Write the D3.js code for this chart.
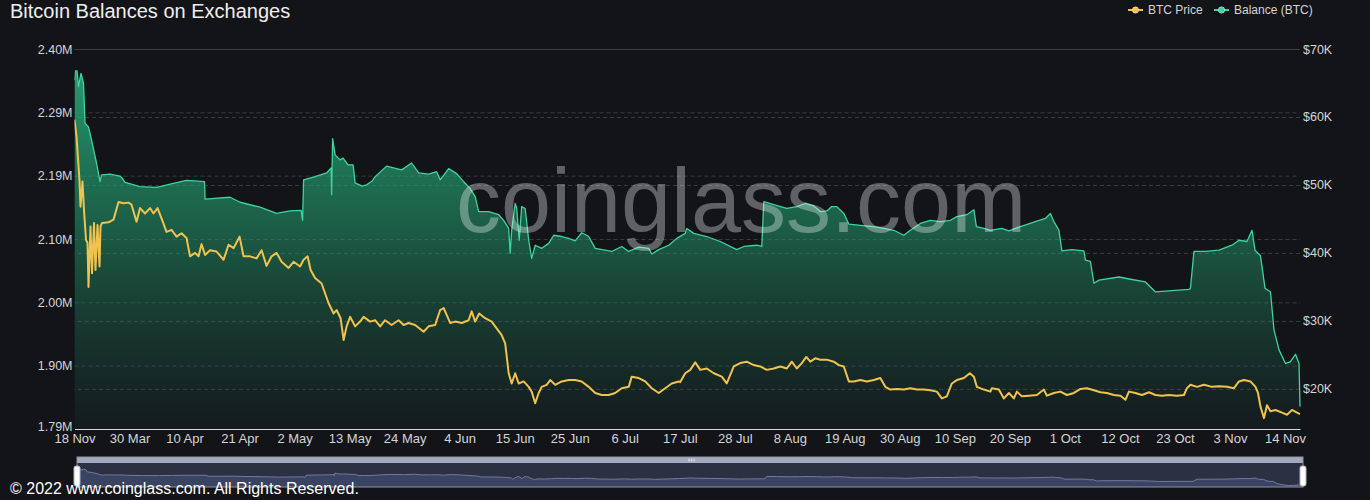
<!DOCTYPE html>
<html><head><meta charset="utf-8">
<script src="https://cdn.jsdelivr.net/npm/d3@7"></script>
<style>
html,body{margin:0;padding:0;background:#131418;}
svg{display:block;font-family:"Liberation Sans",Arial,sans-serif;}
</style></head><body>
<svg id="chart" width="1370" height="500"></svg>
<script>
// ---------------- data ----------------
const chartTitle = "Bitcoin Balances on Exchanges";
const seriesNames = ["BTC Price", "Balance (BTC)"];
const categoryCount = 246;           // daily categories on the x axis
const labelInterval = 11;            // a label every 11 categories
const xTickLabels = ["18 Nov","30 Mar","10 Apr","21 Apr","2 May","13 May","24 May","4 Jun","15 Jun","25 Jun","6 Jul","17 Jul","28 Jul","8 Aug","19 Aug","30 Aug","10 Sep","20 Sep","1 Oct","12 Oct","23 Oct","3 Nov","14 Nov"];
const leftDomain = [1.79, 2.40];     // BTC, millions
const leftTickLabels = ["1.79M","1.90M","2.00M","2.10M","2.19M","2.29M","2.40M"];
const rightDomain = [14.1, 70];      // USD, thousands
const rightTicks = [20, 30, 40, 50, 60, 70];

// [category index, balance in millions of BTC]
const balance = [
[0,2.350],[0.2,2.365],[0.5,2.365],[0.8,2.340],[1.3,2.361],[1.8,2.345],[2.1,2.281],[2.8,2.275],[3.4,2.254],[4.4,2.217],
[5.1,2.187],[5.4,2.198],[7.1,2.199],[9.1,2.196],[9.5,2.193],[10.1,2.186],[13.1,2.179],[16.5,2.178],[19.1,2.183],[22.4,2.189],
[26.0,2.187],[26.1,2.159],[31.1,2.162],[33.1,2.154],[37.1,2.146],[40.4,2.136],[43.1,2.140],[45.3,2.141],[45.6,2.125],[45.8,2.190],
[48.1,2.195],[50.4,2.201],[51.3,2.209],[51.4,2.166],[51.6,2.256],[52.1,2.230],[53.1,2.222],[53.7,2.225],[54.7,2.214],[55.7,2.214],
[56.1,2.185],[57.5,2.180],[58.4,2.182],[59.5,2.188],[60.1,2.195],[62.4,2.212],[65.4,2.206],[67.4,2.217],[68.8,2.201],[70.8,2.199],
[72.4,2.203],[73.1,2.190],[74.8,2.208],[76.4,2.200],[77.8,2.187],[79.1,2.176],[80.1,2.163],[80.8,2.139],[82.8,2.139],[84.8,2.134],
[85.8,2.125],[86.8,2.112],[87.1,2.072],[87.4,2.109],[88.1,2.152],[88.4,2.145],[88.9,2.093],[89.4,2.147],[90.1,2.144],[90.8,2.093],
[91.4,2.064],[92.1,2.085],[93.4,2.080],[94.8,2.088],[95.8,2.101],[97.4,2.099],[98.8,2.096],[100.1,2.092],[101.4,2.105],[102.8,2.099],
[104.1,2.080],[106.1,2.077],[107.4,2.075],[109.4,2.083],[110.8,2.075],[112.8,2.082],[114.8,2.080],[115.4,2.071],[116.8,2.078],[118.8,2.085],
[120.4,2.096],[122.1,2.104],[122.4,2.112],[123.8,2.104],[126.4,2.099],[129.1,2.091],[132.4,2.078],[133.8,2.083],[136.4,2.085],[137.4,2.083],
[137.8,2.155],[139.8,2.150],[142.4,2.144],[144.4,2.147],[146.1,2.152],[147.8,2.148],[149.1,2.139],[150.4,2.140],[151.4,2.147],[152.4,2.147],
[153.8,2.136],[154.8,2.119],[157.1,2.117],[159.8,2.115],[161.8,2.112],[163.8,2.109],[165.8,2.101],[167.1,2.109],[169.1,2.120],[171.1,2.125],
[173.1,2.123],[175.1,2.125],[176.4,2.131],[178.4,2.134],[179.8,2.142],[180.3,2.115],[181.8,2.112],[183.1,2.109],[185.4,2.112],[186.8,2.108],
[188.8,2.114],[192.1,2.123],[194.1,2.128],[195.1,2.136],[195.8,2.123],[196.8,2.109],[197.4,2.076],[199.4,2.078],[201.8,2.076],[202.1,2.061],
[203.1,2.059],[203.8,2.024],[204.8,2.029],[208.8,2.034],[211.4,2.030],[214.1,2.026],[215.1,2.018],[216.1,2.010],[219.4,2.012],[222.8,2.014],
[223.1,2.016],[223.8,2.075],[226.1,2.075],[228.8,2.077],[231.4,2.085],[232.8,2.093],[234.4,2.091],[235.4,2.109],[236.0,2.077],[237.1,2.068],
[238.0,2.016],[239.1,2.010],[239.8,1.949],[240.8,1.917],[242.1,1.895],[243.1,1.898],[244.1,1.910],[244.8,1.895],[245.0,1.826]
];

// [category index, BTC price in thousands of USD]
const price = [
[0,59.6],[0.4,57.1],[1.0,50.7],[1.2,46.8],[1.6,50.5],[1.9,46.3],[2.3,41.9],[2.6,41.5],[2.8,35.0],[3.2,43.9],
[3.5,37.0],[3.9,44.4],[4.2,37.5],[4.6,44.1],[5.0,38.0],[5.2,43.9],[5.5,44.4],[6.8,44.5],[7.8,44.9],[8.8,47.5],
[9.8,47.3],[10.8,47.4],[11.4,47.1],[12.4,44.6],[13.1,46.6],[14.1,45.8],[15.1,46.6],[15.8,45.8],[16.6,46.6],[17.4,45.1],
[18.4,43.1],[19.4,43.4],[20.4,42.4],[21.4,42.9],[22.4,42.2],[23.1,39.5],[24.1,40.0],[24.8,39.5],[25.4,41.3],[26.1,39.7],
[27.1,40.4],[28.4,40.2],[29.8,39.0],[30.8,41.2],[31.8,40.7],[33.0,42.4],[33.8,39.5],[35.1,39.5],[36.4,39.2],[37.4,40.4],
[38.4,38.1],[39.4,39.5],[40.4,40.0],[41.4,38.7],[42.8,37.8],[43.8,38.7],[45.1,38.0],[45.8,39.0],[46.6,39.5],[47.2,37.5],
[48.1,36.3],[49.4,35.5],[50.8,32.6],[51.8,31.1],[52.4,31.6],[53.2,30.4],[53.8,27.2],[54.4,29.2],[55.1,30.6],[56.1,29.2],
[57.1,29.9],[57.8,30.6],[59.1,29.9],[60.1,30.1],[61.1,29.2],[62.1,30.1],[63.4,29.4],[64.8,30.1],[65.8,29.4],[66.8,29.7],
[68.1,29.4],[69.8,28.4],[70.8,29.2],[72.1,29.4],[73.1,31.6],[73.8,31.9],[74.4,30.9],[75.1,29.7],[76.1,29.9],[77.4,29.7],
[78.8,30.1],[79.4,31.4],[80.1,29.9],[80.9,31.1],[82.1,30.4],[83.4,29.9],[84.4,28.9],[85.4,27.9],[86.1,26.7],[86.8,22.3],
[87.4,20.8],[88.1,22.3],[88.8,20.8],[89.8,21.1],[90.8,20.3],[91.4,19.6],[92.1,17.9],[92.8,19.4],[93.4,20.3],[94.4,20.6],
[95.1,21.3],[96.1,20.6],[97.4,21.1],[98.8,21.3],[100.1,21.3],[101.4,21.1],[102.8,20.3],[104.1,19.4],[105.4,19.1],[106.8,19.1],
[108.1,19.4],[109.4,20.1],[110.8,20.3],[111.4,21.8],[112.8,21.6],[114.1,21.1],[115.4,20.1],[116.8,19.4],[118.1,20.1],[119.4,20.8],
[120.8,21.1],[121.1,21.0],[122.1,22.3],[123.1,22.8],[124.1,23.9],[125.1,22.8],[126.4,23.0],[127.8,22.3],[129.4,21.8],[130.4,20.8],
[131.8,23.3],[133.1,23.8],[134.4,24.0],[135.8,23.5],[137.1,23.3],[138.4,22.8],[139.8,23.0],[141.1,23.3],[142.4,23.0],[143.4,24.0],
[144.4,23.0],[145.4,23.8],[146.3,24.7],[147.1,24.0],[148.1,24.5],[149.1,24.3],[150.4,24.3],[151.8,24.0],[152.8,23.5],[153.8,23.3],
[154.8,21.1],[155.8,21.1],[157.1,21.3],[158.4,21.1],[159.8,21.3],[161.1,21.6],[162.1,20.3],[163.1,19.9],[164.4,20.0],[165.8,19.9],
[167.1,20.1],[168.4,19.9],[169.8,19.9],[171.1,19.8],[172.4,19.6],[173.4,18.6],[174.4,18.9],[175.4,20.8],[176.4,21.3],[177.8,21.6],
[179.0,22.3],[179.8,21.8],[180.4,20.3],[181.8,19.9],[183.1,19.6],[183.4,20.1],[184.8,19.9],[185.8,18.6],[186.8,19.4],[187.8,18.6],
[188.4,19.6],[189.4,18.9],[190.8,19.0],[192.4,19.1],[193.8,19.9],[194.4,19.0],[195.8,19.4],[197.1,19.6],[198.4,19.1],[199.8,19.4],
[201.1,20.0],[202.4,20.1],[203.8,19.8],[205.1,19.5],[206.4,19.4],[207.8,19.1],[209.1,19.0],[210.1,18.4],[210.8,19.6],[212.1,19.4],
[213.4,19.1],[214.8,19.5],[216.1,19.1],[217.4,19.0],[218.8,19.1],[220.4,19.0],[221.8,19.1],[222.4,20.1],[223.1,20.6],[224.4,20.3],
[225.8,20.6],[227.4,20.3],[228.8,20.4],[230.4,20.3],[231.8,20.1],[232.8,21.1],[233.8,21.3],[235.1,21.1],[236.1,20.3],[236.6,19.4],
[237.1,17.4],[237.8,15.7],[238.4,17.6],[239.1,16.7],[240.1,16.9],[241.4,16.5],[242.4,16.2],[243.4,16.9],[244.4,16.5],[245.0,16.3]
];

// ---------------- drawing ----------------
const W = 1370, H = 500;
const plot = {left: 74.5, right: 1300, top: 49, bottom: 429};
const svg = d3.select("#chart");
svg.append("rect").attr("width", W).attr("height", H).attr("fill", "#131418");

const x = d3.scaleLinear().domain([0, categoryCount - 1]).range([plot.left, plot.right]);
const yL = d3.scaleLinear().domain(leftDomain).range([plot.bottom, plot.top]);
const yR = d3.scaleLinear().domain(rightDomain).range([plot.bottom, plot.top]);
const plotW = plot.right - plot.left;

const COLORS = {price: "#f0c24e", balance: "#3fd3a0", text: "#d4d4d6", grid: "#3b3c42"};

// gradient for the balance area
const defs = svg.append("defs");
const grad = defs.append("linearGradient").attr("id", "balGrad")
  .attr("gradientUnits", "userSpaceOnUse").attr("x1", 0).attr("x2", 0)
  .attr("y1", yL(d3.max(balance, d => d[1]))).attr("y2", plot.bottom);
grad.append("stop").attr("offset", 0).attr("stop-color", "rgb(40,178,126)").attr("stop-opacity", 0.85);
grad.append("stop").attr("offset", 0.45).attr("stop-color", "rgb(34,150,106)").attr("stop-opacity", 0.55);
grad.append("stop").attr("offset", 1).attr("stop-color", "rgb(30,110,80)").attr("stop-opacity", 0.08);
defs.append("clipPath").attr("id", "plotClip").append("rect")
  .attr("x", plot.left).attr("y", plot.top - 30).attr("width", plotW + 1).attr("height", plot.bottom - plot.top + 30);

// grid + axes
const leftTicks = leftTickLabels.map((_, i) => leftDomain[0] + i * (leftDomain[1] - leftDomain[0]) / (leftTickLabels.length - 1));
const gL = svg.append("g").attr("transform", `translate(${plot.left},0)`)
  .call(d3.axisLeft(yL).tickValues(leftTicks).tickSize(-plotW).tickPadding(2)
    .tickFormat((d, i) => leftTickLabels[i]));
const gR = svg.append("g").attr("transform", `translate(${plot.right},0)`)
  .call(d3.axisRight(yR).tickValues(rightTicks).tickSize(-plotW).tickPadding(3)
    .tickFormat(d => "$" + d + "K"));
[gL, gR].forEach(g => {
  g.select(".domain").remove();
  g.selectAll(".tick line").attr("stroke", COLORS.grid).attr("stroke-dasharray", "4,3").attr("stroke-width", 1);
  g.selectAll(".tick text").attr("fill", COLORS.text).style("font-size", "12.5px")
    .style("font-family", '"Liberation Sans", Arial, sans-serif');
});
gL.selectAll(".tick").filter(d => d === leftTicks[0]).select("line").remove();
gL.selectAll(".tick").filter(d => d === leftTicks[0]).select("text").attr("dy", "0.1em");

// balance area + line
const area = d3.area().x(d => x(d[0])).y0(plot.bottom).y1(d => yL(d[1]));
const lineB = d3.line().x(d => x(d[0])).y(d => yL(d[1]));
const lineP = d3.line().x(d => x(d[0])).y(d => yR(d[1]));
const gPlot = svg.append("g").attr("clip-path", "url(#plotClip)");
gPlot.append("path").datum(balance).attr("d", area).attr("fill", "url(#balGrad)");
gPlot.append("path").datum(balance).attr("d", lineB).attr("fill", "none")
  .attr("stroke", COLORS.balance).attr("stroke-width", 1.3).attr("stroke-linejoin", "round");
gPlot.append("path").datum(price).attr("d", lineP).attr("fill", "none")
  .attr("stroke", COLORS.price).attr("stroke-width", 2).attr("stroke-linejoin", "round");

// x axis
const xTickVals = xTickLabels.map((_, i) => i * labelInterval);
const gX = svg.append("g").attr("transform", `translate(0,${plot.bottom})`)
  .call(d3.axisBottom(x).tickValues(xTickVals).tickSize(0).tickPadding(5)
    .tickFormat((d, i) => xTickLabels[i]));
gX.select(".domain").attr("stroke", "#d8d8d8").attr("stroke-width", 1);
gX.selectAll(".tick text").attr("fill", COLORS.text).style("font-size", "13px")
  .style("font-family", '"Liberation Sans", Arial, sans-serif');

// watermark
svg.append("text").attr("x", 741).attr("y", 232).attr("text-anchor", "middle")
  .style("font-size", "90px").attr("fill", "rgba(255,255,255,0.33)").text("coinglass.com");

// title
svg.append("text").attr("x", 10).attr("y", 18).style("font-size", "20px")
  .attr("fill", "#eeeeee").text(chartTitle);

// legend
const legendItems = [
  {name: seriesNames[0], color: COLORS.price, x: 1128},
  {name: seriesNames[1], color: COLORS.balance, x: 1214}
];
const gLeg = svg.append("g");
legendItems.forEach(it => {
  const g = gLeg.append("g").attr("transform", `translate(${it.x},10)`);
  g.append("line").attr("x1", 0).attr("x2", 15).attr("stroke", it.color).attr("stroke-width", 2);
  g.append("circle").attr("cx", 7.5).attr("r", 3.2).attr("fill", it.color).attr("stroke", "#fff").attr("stroke-opacity", 0.5).attr("stroke-width", 0.8);
  g.append("text").attr("x", 20).attr("dy", "0.35em").style("font-size", "12px")
    .attr("fill", COLORS.text).text(it.name);
});

// data-zoom slider
const slider = {left: 77, right: 1303, top: 457, bottom: 487};
const xs = d3.scaleLinear().domain([0, categoryCount - 1]).range([slider.left, slider.right]);
const ys = d3.scaleLinear().domain([1.88, 2.54]).range([slider.bottom - 1, slider.top + 6]).clamp(true);
const gS = svg.append("g");
gS.append("rect").attr("x", slider.left).attr("y", slider.top).attr("width", slider.right - slider.left)
  .attr("height", slider.bottom - slider.top).attr("fill", "#2b3142");
gS.append("path").datum(balance)
  .attr("d", d3.area().x(d => xs(d[0])).y0(slider.bottom).y1(d => ys(d[1])))
  .attr("fill", "#3a4462");
gS.append("path").datum(balance)
  .attr("d", d3.line().x(d => xs(d[0])).y(d => ys(d[1])))
  .attr("fill", "none").attr("stroke", "#6f7b9c").attr("stroke-width", 1);
gS.append("rect").attr("x", slider.left).attr("y", slider.top).attr("width", slider.right - slider.left)
  .attr("height", 6).attr("fill", "#a4aabd");
gS.append("rect").attr("x", slider.left).attr("y", slider.top).attr("width", slider.right - slider.left)
  .attr("height", slider.bottom - slider.top).attr("fill", "none").attr("stroke", "#8d93a6").attr("stroke-width", 1);
[0, 2.5, 5].forEach(o => gS.append("line").attr("x1", 689 + o).attr("x2", 689 + o)
  .attr("y1", slider.top + 1.5).attr("y2", slider.top + 4.5).attr("stroke", "#e8e8ee").attr("stroke-width", 1));
[slider.left, slider.right].forEach(hx => gS.append("rect").attr("x", hx - 3).attr("y", slider.top + 9)
  .attr("width", 6).attr("height", 20).attr("rx", 2).attr("fill", "#ffffff").attr("stroke", "#aab0c0"));

// footer
svg.append("text").attr("x", 10).attr("y", 494).style("font-size", "16px")
  .attr("fill", "#ffffff").text("© 2022 www.coinglass.com. All Rights Reserved.");
</script>
</body></html>
